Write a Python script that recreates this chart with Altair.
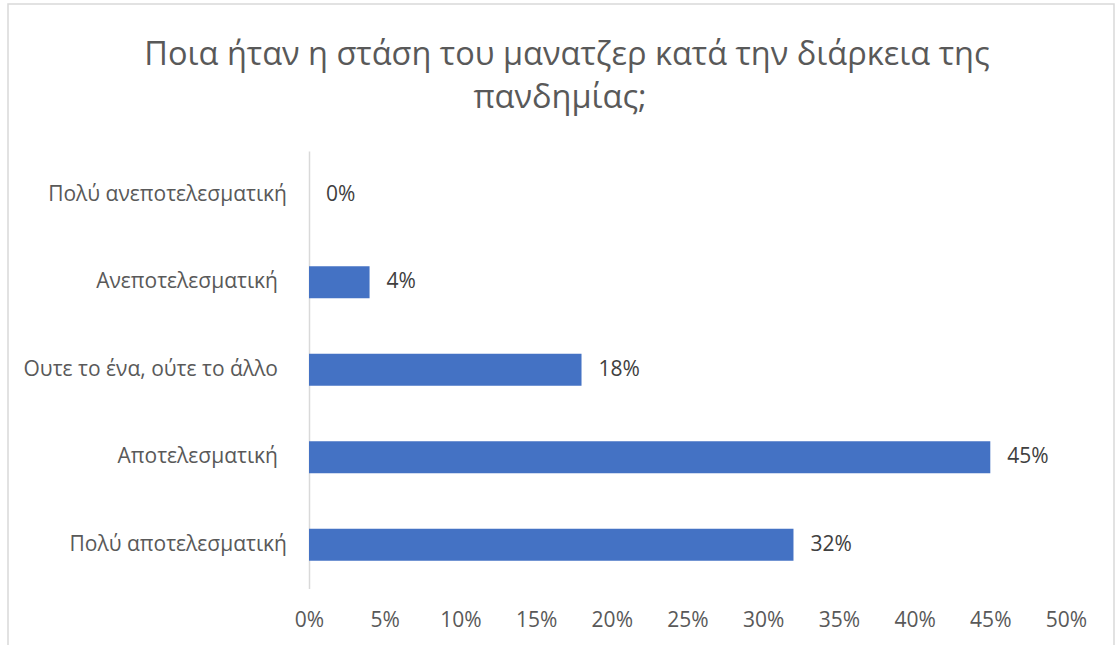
import altair as alt
import pandas as pd

categories = [
    "Πολύ ανεποτελεσματική",
    "Ανεποτελεσματική",
    "Ουτε το ένα, ούτε το άλλο",
    "Αποτελεσματική",
    "Πολύ αποτελεσματική",
]
# labels that carry a trailing space in the original (sit a bit further left)
trailing_space = ["Ανεποτελεσματική", "Ουτε το ένα, ούτε το άλλο", "Αποτελεσματική"]
values = [0.0, 0.04, 0.18, 0.45, 0.32]
x_ticks = [0, 0.05, 0.10, 0.15, 0.20, 0.25, 0.30, 0.35, 0.40, 0.45, 0.50]
title_lines = ["Ποια ήταν η στάση του μανατζερ κατά την διάρκεια της", "πανδημίας;"]

df = pd.DataFrame({"cat": categories, "val": values})
FONT = "Open Sans"
GRAY = "#595959"

y_enc = alt.Y(
    "cat:N",
    sort=categories,
    scale=alt.Scale(paddingInner=0.634, paddingOuter=0.317),
    axis=alt.Axis(
        title=None, labels=False, ticks=False,
        domainColor="#d9d9d9", domainWidth=1.5,
    ),
)
x_enc = alt.X(
    "val:Q",
    scale=alt.Scale(domain=[0, 0.5], nice=False),
    axis=alt.Axis(
        title=None, format=".0%", values=x_ticks, grid=False, domain=False,
        ticks=False, labelPadding=21, labelFontSize=21, labelColor=GRAY,
        labelFont=FONT, labelFlush=False,
    ),
)

bars = alt.Chart(df).mark_bar(color="#4472C4").encode(x=x_enc, y=y_enc)
labels = alt.Chart(df).mark_text(
    align="left", baseline="middle", dx=17, fontSize=21, color="#404040", font=FONT
).encode(
    x=alt.X("val:Q"),
    y=alt.Y("cat:N", sort=categories),
    text=alt.Text("val:Q", format=".0%"),
)
cat_full = alt.Chart(df).transform_filter(
    ~alt.FieldOneOfPredicate(field="cat", oneOf=trailing_space)
).mark_text(
    align="right", baseline="middle", fontSize=21, color=GRAY, font=FONT
).encode(y=alt.Y("cat:N", sort=categories), text="cat:N", x=alt.value(-22))
cat_space = alt.Chart(df).transform_filter(
    alt.FieldOneOfPredicate(field="cat", oneOf=trailing_space)
).mark_text(
    align="right", baseline="middle", fontSize=21, color=GRAY, font=FONT
).encode(y=alt.Y("cat:N", sort=categories), text="cat:N", x=alt.value(-31))

border = alt.Chart(pd.DataFrame({"a": [0]})).mark_rect(
    fillOpacity=0, stroke="#d9d9d9", strokeWidth=1.5
).encode(
    x=alt.value(-301), x2=alt.value(805), y=alt.value(-147), y2=alt.value(520)
)
title1 = alt.Chart(pd.DataFrame({"t": [title_lines[0]]})).mark_text(
    align="center", baseline="alphabetic", fontSize=32.5, font=FONT, color=GRAY
).encode(text="t:N", x=alt.value(258), y=alt.value(-86))
title2 = alt.Chart(pd.DataFrame({"t": [title_lines[1]]})).mark_text(
    align="center", baseline="alphabetic", fontSize=32.5, font=FONT, color=GRAY
).encode(text="t:N", x=alt.value(251), y=alt.value(-43))

chart = alt.layer(border, bars, labels, cat_full, cat_space, title1, title2).properties(
    width=757,
    height=437.5,
    autosize=alt.AutoSizeParams(type="none"),
    padding={"left": 309, "top": 151, "right": 49, "bottom": 56},
    background="white",
).configure_view(stroke=None)

chart.save("out.html", embed_options={"renderer": "svg", "actions": False})
